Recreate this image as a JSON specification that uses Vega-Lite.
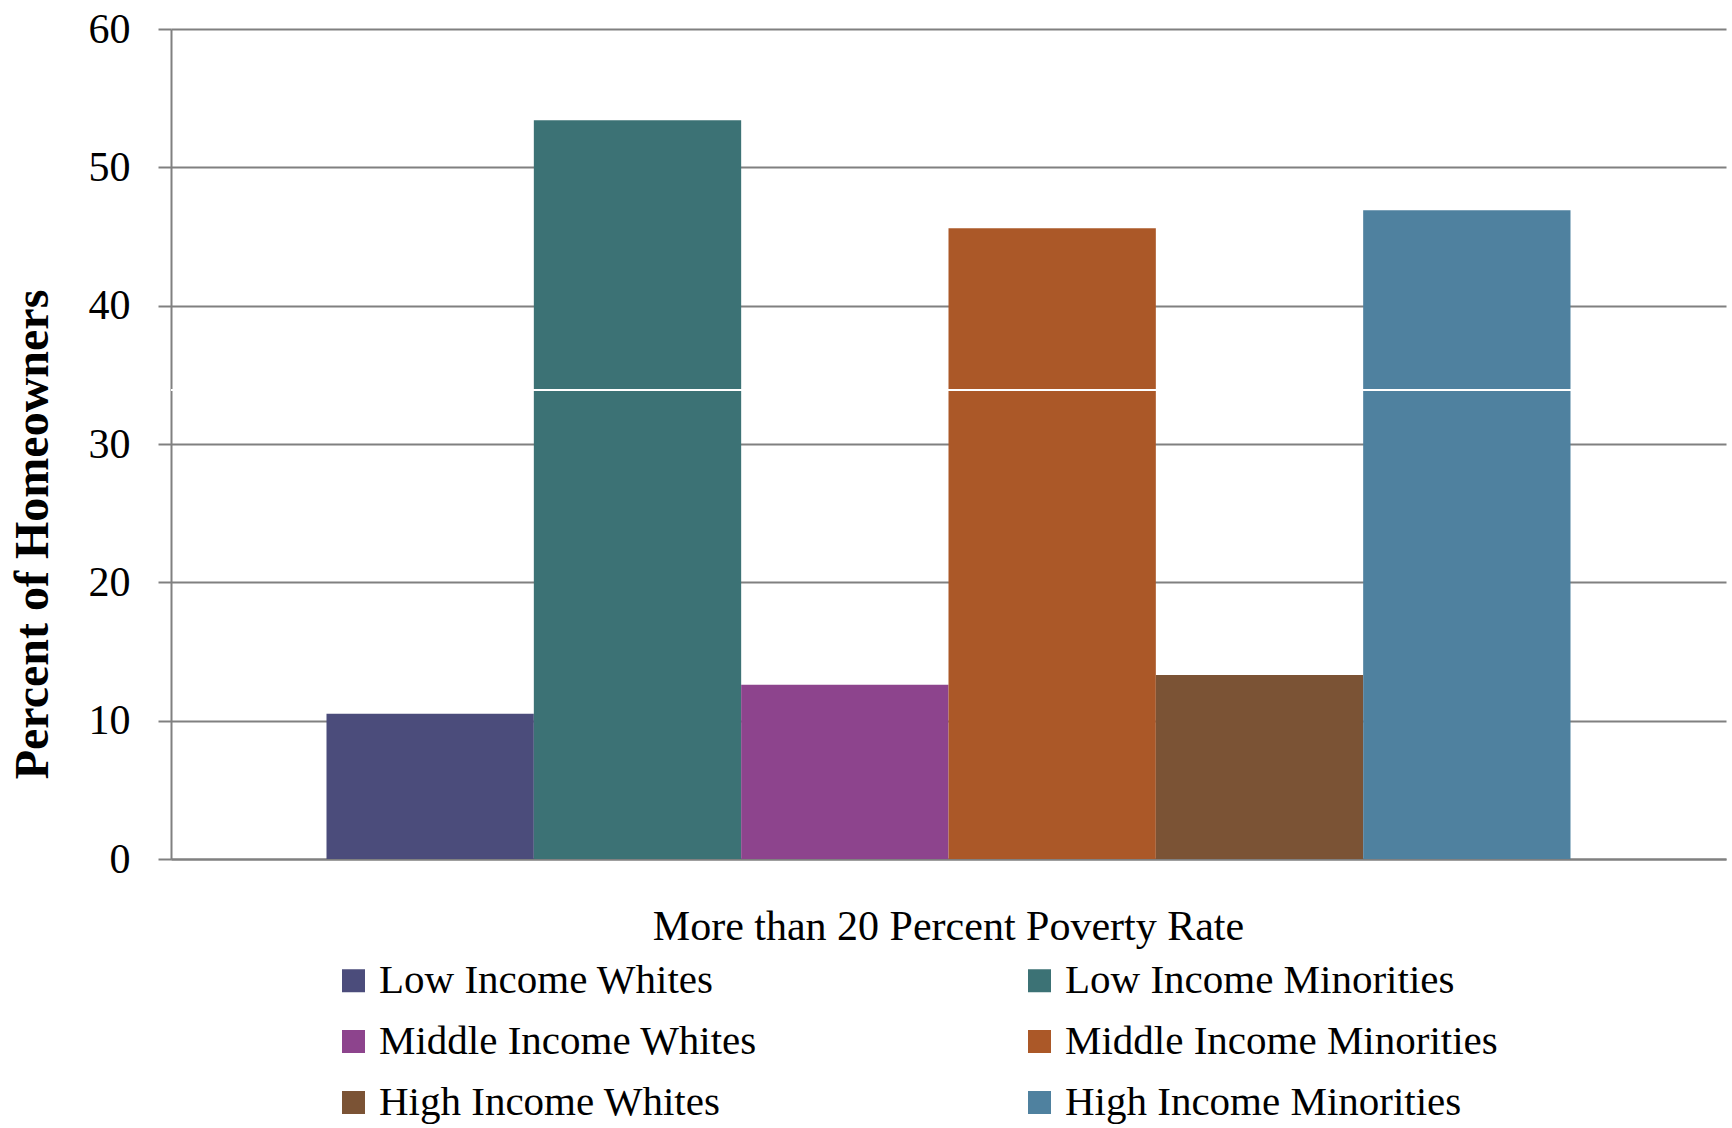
{
  "$schema": "https://vega.github.io/schema/vega-lite/v6.json",
  "width": 1555,
  "height": 830,
  "autosize": {"type": "none"},
  "padding": {"left": 171, "top": 29, "right": 6, "bottom": 269},
  "background": "white",
  "config": {"font": "Liberation Serif", "view": {"stroke": null}},
  "data": {
    "values": [
      {"category": "More than 20 Percent Poverty Rate", "group": "Low Income Whites", "value": 10.5},
      {"category": "More than 20 Percent Poverty Rate", "group": "Low Income Minorities", "value": 53.4},
      {"category": "More than 20 Percent Poverty Rate", "group": "Middle Income Whites", "value": 12.6},
      {"category": "More than 20 Percent Poverty Rate", "group": "Middle Income Minorities", "value": 45.6},
      {"category": "More than 20 Percent Poverty Rate", "group": "High Income Whites", "value": 13.3},
      {"category": "More than 20 Percent Poverty Rate", "group": "High Income Minorities", "value": 46.9}
    ]
  },
  "layer": [
    {
      "mark": {"type": "bar"},
      "encoding": {
        "x": {
          "field": "category",
          "type": "nominal",
          "scale": {"paddingInner": 0, "paddingOuter": 0.125},
          "axis": {
            "title": null,
            "labelAngle": 0,
            "labelFont": "Liberation Serif",
            "labelFontSize": 42,
            "labelColor": "black",
            "labelPadding": 47,
            "labelLimit": 1200,
            "ticks": false,
            "domainColor": "#808080",
            "domainWidth": 2
          }
        },
        "xOffset": {
          "field": "group",
          "type": "nominal",
          "sort": ["Low Income Whites", "Low Income Minorities", "Middle Income Whites", "Middle Income Minorities", "High Income Whites", "High Income Minorities"],
          "scale": {"paddingInner": 0, "paddingOuter": 0}
        },
        "y": {
          "field": "value",
          "type": "quantitative",
          "scale": {"domain": [0, 60]},
          "axis": {
            "title": "Percent of Homeowners",
            "titleFont": "Liberation Serif",
            "titleFontSize": 48,
            "titleFontWeight": "bold",
            "titleColor": "black",
            "titleAngle": -90,
            "titleAlign": "center",
            "titleBaseline": "middle",
            "titleX": -138,
            "titleY": 505,
            "values": [0, 10, 20, 30, 40, 50, 60],
            "labelFont": "Liberation Serif",
            "labelFontSize": 42,
            "labelColor": "black",
            "labelPadding": 28,
            "tickSize": 13,
            "tickColor": "#808080",
            "tickWidth": 2,
            "domainColor": "#808080",
            "domainWidth": 2,
            "gridColor": "#808080",
            "gridWidth": 2
          }
        },
        "color": {
          "field": "group",
          "type": "nominal",
          "scale": {
            "domain": ["Low Income Whites", "Middle Income Whites", "High Income Whites", "Low Income Minorities", "Middle Income Minorities", "High Income Minorities"],
            "range": ["#4b4c7b", "#8d448d", "#7b5335", "#3c7275", "#ab5828", "#4f819f"]
          },
          "legend": {
            "orient": "none",
            "legendX": 162,
            "legendY": 931,
            "columns": 2,
            "title": null,
            "padding": 0,
            "symbolType": "square",
            "symbolSize": 529,
            "symbolStrokeWidth": 0,
            "labelFont": "Liberation Serif",
            "labelFontSize": 41,
            "labelColor": "black",
            "labelOffset": 5,
            "labelLimit": 800,
            "rowPadding": 19,
            "columnPadding": 261
          }
        }
      }
    },
    {
      "mark": {"type": "rule", "color": "white", "strokeWidth": 1.5},
      "encoding": {"y": {"datum": 33.9}}
    }
  ]
}
